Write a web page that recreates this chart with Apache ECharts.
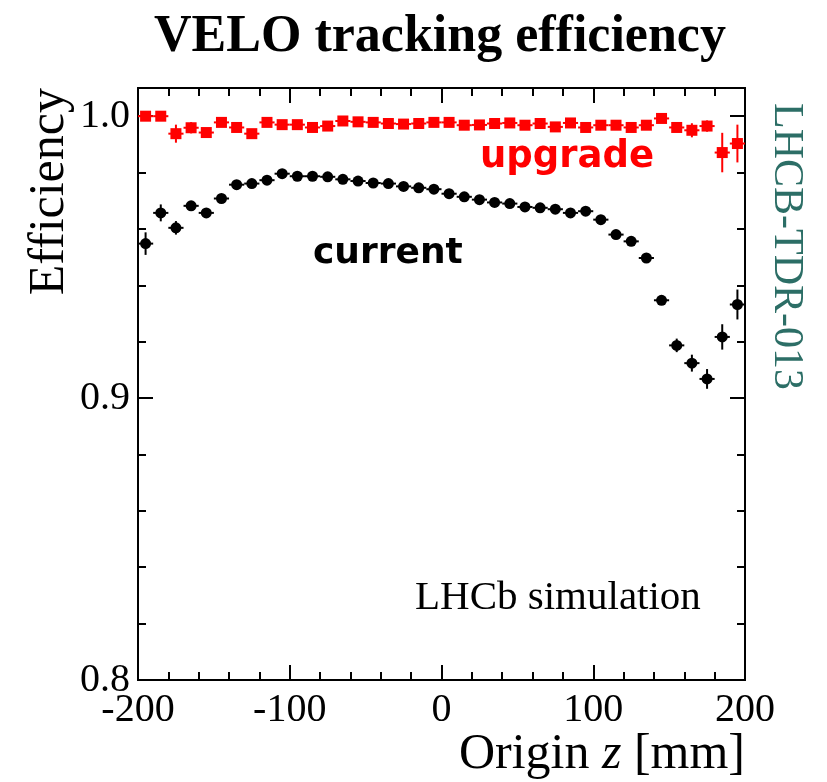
<!DOCTYPE html>
<html>
<head>
<meta charset="utf-8">
<title>VELO tracking efficiency</title>
<script src="https://cdn.jsdelivr.net/npm/echarts@6/dist/echarts.min.js"></script>
<style>
  html, body { margin: 0; padding: 0; background: #ffffff; }
  #chart { width: 827px; height: 782px; }
</style>
</head>
<body>
<div id="chart"></div>
<script>
// Bin centres of origin z [mm], 10 mm bins
const zCenters = [-195, -185, -175, -165, -155, -145, -135, -125, -115, -105,
                  -95, -85, -75, -65, -55, -45, -35, -25, -15, -5,
                  5, 15, 25, 35, 45, 55, 65, 75, 85, 95,
                  105, 115, 125, 135, 145, 155, 165, 175, 185, 195];
const binHalfWidth = 5;

// Upgrade VELO efficiency and its uncertainty
const upgradeEff = [1.000, 1.000, 0.9938, 0.9959, 0.9942, 0.9978, 0.9960, 0.9938, 0.9978, 0.9970,
                    0.9970, 0.9960, 0.9965, 0.9983, 0.9980, 0.9978, 0.9974, 0.9972, 0.9974, 0.9978,
                    0.9978, 0.9968, 0.9969, 0.9974, 0.9976, 0.9968, 0.9974, 0.9962, 0.9976, 0.9960,
                    0.9968, 0.9968, 0.9960, 0.9968, 0.9992, 0.9960, 0.9950, 0.9965, 0.9871, 0.9903];
const upgradeErr = [0.0012, 0.0012, 0.0032, 0.0020, 0.0015, 0.0012, 0.0012, 0.0012, 0.0012, 0.0012,
                    0.0012, 0.0012, 0.0012, 0.0012, 0.0012, 0.0012, 0.0012, 0.0012, 0.0012, 0.0012,
                    0.0012, 0.0012, 0.0012, 0.0012, 0.0012, 0.0012, 0.0012, 0.0012, 0.0012, 0.0012,
                    0.0012, 0.0012, 0.0012, 0.0012, 0.0012, 0.0015, 0.0025, 0.0020, 0.0070, 0.0067];

// Current VELO efficiency and its uncertainty
const currentEff = [0.9548, 0.9657, 0.9604, 0.9682, 0.9657, 0.9708, 0.9757, 0.9761, 0.9773, 0.9796,
                    0.9787, 0.9787, 0.9785, 0.9776, 0.9770, 0.9763, 0.9761, 0.9751, 0.9746, 0.9741,
                    0.9725, 0.9714, 0.9704, 0.9694, 0.9690, 0.9678, 0.9675, 0.9670, 0.9657, 0.9663,
                    0.9633, 0.9580, 0.9556, 0.9497, 0.9347, 0.9187, 0.9124, 0.9068, 0.9217, 0.9332];
const currentErr = [0.0040, 0.0030, 0.0024, 0.0015, 0.0012, 0.0010, 0.0010, 0.0010, 0.0010, 0.0010,
                    0.0010, 0.0010, 0.0010, 0.0010, 0.0010, 0.0010, 0.0010, 0.0010, 0.0010, 0.0010,
                    0.0010, 0.0010, 0.0010, 0.0010, 0.0010, 0.0010, 0.0010, 0.0010, 0.0010, 0.0010,
                    0.0010, 0.0010, 0.0010, 0.0010, 0.0012, 0.0024, 0.0030, 0.0035, 0.0045, 0.0053];

// Axis ranges and tick steps
const xRange = [-200, 200];
const xMajorStep = 100;
const yRange = [0.8, 1.01];
const yMajorStep = 0.1;
const yMinorStep = 0.02;

const SERIF = '"Liberation Serif", "Times New Roman", serif';
const SANS_BOLD = '"DejaVu Sans", sans-serif';

function toPoints(eff, err) {
  return zCenters.map((z, i) => [z, eff[i], err[i]]);
}

// Draws one histogram-style point: x bin bar, y error bar and a marker
function makeRenderer(color, markerKind, size) {
  return function (params, api) {
    const x = api.value(0), y = api.value(1), e = api.value(2);
    const c = api.coord([x, y]);
    const l = api.coord([x - binHalfWidth, y]);
    const r = api.coord([x + binHalfWidth, y]);
    const lo = api.coord([x, y - e]);
    const hi = api.coord([x, y + e]);
    const lineStyle = { stroke: color, lineWidth: 2 };
    const marker = markerKind === 'square'
      ? { type: 'rect', shape: { x: c[0] - size / 2, y: c[1] - size / 2, width: size, height: size }, style: { fill: color } }
      : { type: 'circle', shape: { cx: c[0], cy: c[1], r: size / 2 }, style: { fill: color } };
    return {
      type: 'group',
      children: [
        { type: 'line', shape: { x1: l[0], y1: l[1], x2: r[0], y2: r[1] }, style: lineStyle },
        { type: 'line', shape: { x1: lo[0], y1: lo[1], x2: hi[0], y2: hi[1] }, style: lineStyle },
        marker
      ]
    };
  };
}

function yLabel(v) {
  const k = v / yMajorStep;
  if (Math.abs(k - Math.round(k)) < 1e-6) return v.toFixed(1);
  return '';
}

const frameLine = { show: true, onZero: false, lineStyle: { color: '#000', width: 2 } };

function xAxisDef(position, showLabels) {
  return {
    type: 'value', position: position, min: xRange[0], max: xRange[1], interval: xMajorStep,
    axisLine: frameLine,
    axisTick: { show: true, inside: true, length: 15, lineStyle: { color: '#000', width: 2 } },
    minorTick: { show: true, splitNumber: 5, length: 8, lineStyle: { color: '#000', width: 2 } },
    splitLine: { show: false }, minorSplitLine: { show: false },
    axisLabel: showLabels
      ? { show: true, color: '#000', fontFamily: SERIF, fontSize: 40, margin: 10 }
      : { show: false }
  };
}

function yAxisDef(position, step, tickLen, showLabels) {
  return {
    type: 'value', position: position, min: yRange[0], max: yRange[1], interval: step,
    axisLine: frameLine,
    axisTick: { show: true, inside: true, length: tickLen, lineStyle: { color: '#000', width: 2 } },
    splitLine: { show: false },
    axisLabel: showLabels
      ? { show: true, color: '#000', fontFamily: SERIF, fontSize: 40, margin: 8,
          showMaxLabel: false, formatter: yLabel }
      : { show: false }
  };
}

const chart = echarts.init(document.getElementById('chart'), null, { renderer: 'canvas' });

chart.setOption({
  animation: false,
  backgroundColor: '#ffffff',
  grid: { left: 138, right: 82, top: 88, bottom: 102, containLabel: false, outerBoundsMode: 'none' },
  xAxis: [xAxisDef('bottom', true), xAxisDef('top', false)],
  yAxis: [
    yAxisDef('left', yMinorStep, 8, true),
    yAxisDef('left', yMajorStep, 15, false),
    yAxisDef('right', yMinorStep, 8, false),
    yAxisDef('right', yMajorStep, 15, false)
  ],
  series: [
    {
      name: 'current', type: 'custom', xAxisIndex: 0, yAxisIndex: 0,
      renderItem: makeRenderer('#000000', 'circle', 11),
      encode: { x: 0, y: 1 },
      data: toPoints(currentEff, currentErr)
    },
    {
      name: 'upgrade', type: 'custom', xAxisIndex: 0, yAxisIndex: 0,
      renderItem: makeRenderer('#ff0000', 'square', 11),
      encode: { x: 0, y: 1 },
      data: toPoints(upgradeEff, upgradeErr)
    }
  ],
  graphic: [
    { type: 'text', x: 440, y: 38,
      style: { text: 'VELO tracking efficiency', fill: '#000', font: 'bold 52px ' + SERIF,
               align: 'center', verticalAlign: 'middle' } },
    { type: 'text', x: 50, y: 88, rotation: Math.PI / 2,
      style: { text: 'Efficiency', fill: '#000', font: '50px ' + SERIF,
               align: 'right', verticalAlign: 'middle' } },
    { type: 'text', x: 745, y: 755,
      style: { text: '{a|Origin }{b|z}{a| [mm]}', align: 'right', verticalAlign: 'middle',
               rich: {
                 a: { fontFamily: SERIF, fontSize: 50, fill: '#000', color: '#000' },
                 b: { fontFamily: SERIF, fontSize: 50, fontStyle: 'italic', fill: '#000', color: '#000' }
               } } },
    { type: 'text', x: 786, y: 103, rotation: -Math.PI / 2,
      style: { text: 'LHCB-TDR-013', fill: '#2c6e66', font: '42px ' + SERIF,
               align: 'left', verticalAlign: 'middle' } },
    { type: 'text', x: 480, y: 157,
      style: { text: 'upgrade', fill: '#ff0000', font: 'bold 37px ' + SANS_BOLD,
               align: 'left', verticalAlign: 'middle' } },
    { type: 'text', x: 313, y: 254,
      style: { text: 'current', fill: '#000', font: 'bold 36px ' + SANS_BOLD,
               align: 'left', verticalAlign: 'middle' } },
    { type: 'text', x: 415, y: 598,
      style: { text: 'LHCb simulation', fill: '#000', font: '41px ' + SERIF,
               align: 'left', verticalAlign: 'middle' } }
  ]
});
</script>
</body>
</html>
